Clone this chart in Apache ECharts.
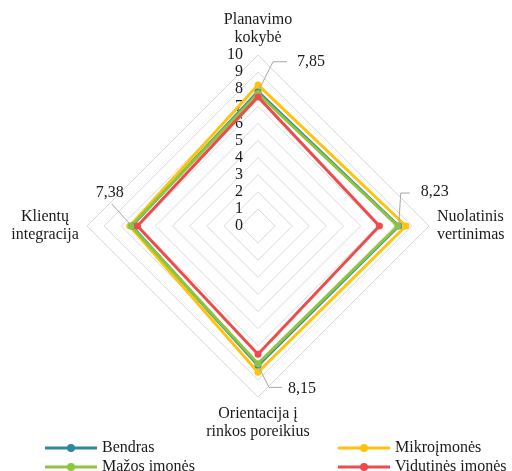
<!DOCTYPE html>
<html>
<head>
<meta charset="utf-8">
<script src="https://cdn.jsdelivr.net/npm/echarts@6/dist/echarts.min.js"></script>
<style>
  html, body { margin: 0; padding: 0; background: #fff; }
  #chart { width: 512px; height: 471px; }
</style>
</head>
<body>
<div id="chart"></div>
<script>
// indicators, in echarts order (top, then counter-clockwise)
var categories = ['Planavimo\nkokybė', 'Klientų\nintegracija', 'Orientacija į\nrinkos poreikius', 'Nuolatinis\nvertinimas'];
var seriesNames = ['Bendras', 'Mikroįmonės', 'Mažos įmonės', 'Vidutinės įmonės'];
var bendras = [7.85, 7.38, 8.15, 8.23];
var mikro = [8.25, 7.5, 8.55, 8.65];
var mazos = [7.75, 7.42, 8.05, 8.18];
var vidutines = [7.55, 7.05, 7.5, 7.1];
var tickLabels = ['0', '1', '2', '3', '4', '5', '6', '7', '8', '9', '10'];
var labelTexts = ['7,85', '7,38', '8,15', '8,23'];

var colors = ['#31879f', '#ffc20e', '#8cc63e', '#ee4c4c'];
var font = "'Liberation Serif', 'Times New Roman', 'DejaVu Serif', serif";
var cx = 258, cy = 226, R = 171, maxV = 10;

var chart = echarts.init(document.getElementById('chart'));

function pt(v, i) {
    var a = (90 + i * 360 / categories.length) * Math.PI / 180;
    return [cx + R * v / maxV * Math.cos(a), cy - R * v / maxV * Math.sin(a)];
}

// leader lines + labels for Bendras
var shifts = [
    {elbow: [15, -30], end: [29, -30], text: [39, -30], align: 'left'},
    {elbow: [-20, -22], end: [-20, -22], text: [-22, -33], align: 'center'},
    {elbow: [11, 22], end: [24, 22], text: [30, 23], align: 'left'},
    {elbow: [2, -33], end: [11, -33], text: [22, -34], align: 'left'}
];
var graphics = [];
bendras.forEach(function (v, i) {
    var p = pt(v, i), s = shifts[i];
    graphics.push({
        type: 'polyline', silent: true, z: 10,
        shape: {points: [p, [p[0] + s.elbow[0], p[1] + s.elbow[1]], [p[0] + s.end[0], p[1] + s.end[1]]]},
        style: {stroke: '#a6a6a6', lineWidth: 1, fill: null}
    });
    graphics.push({
        type: 'text', silent: true, z: 10,
        x: p[0] + s.text[0], y: p[1] + s.text[1],
        style: {text: labelTexts[i], font: '16px ' + font, fill: '#1a1a1a',
            align: s.align, verticalAlign: 'middle'}
    });
});

var legendIcon = 'path://M0,2.5 L52,2.5 L52,5.5 L0,5.5 Z M22,4 A4,4 0 1 1 30,4 A4,4 0 1 1 22,4 Z';
var legendPos = [[40, 435], [333, 435], [40, 454], [333, 454]];

var datas = [bendras, mikro, mazos, vidutines];

var option = {
    animation: false,
    color: colors,
    textStyle: {fontFamily: font},
    legend: seriesNames.map(function (n, k) {
        return {
            left: legendPos[k][0], top: legendPos[k][1],
            itemWidth: 52, itemHeight: 8, icon: legendIcon,
            itemStyle: {borderWidth: 0, color: colors[k]},
            textStyle: {fontFamily: font, fontSize: 16, color: '#1a1a1a'},
            data: [n]
        };
    }),
    radar: {
        center: [cx, cy],
        radius: R,
        shape: 'polygon',
        splitNumber: 10,
        nameGap: 8,
        indicator: categories.map(function (c) { return {name: c, min: 0, max: maxV}; }),
        axisName: {
            color: '#1a1a1a', fontFamily: font, fontSize: 16, lineHeight: 18,
            formatter: function (name) {
                // left name has its two lines centred on each other
                if (name !== categories[1]) return name;
                return name.split('\n').map(function (l) { return '{c|' + l + '}'; }).join('\n');
            },
            rich: {c: {width: 68, align: 'center', color: '#1a1a1a', fontFamily: font, fontSize: 16, lineHeight: 18}}
        },
        axisLine: {show: false},
        axisTick: {show: false},
        axisLabel: {show: false},
        splitArea: {show: false},
        splitLine: {lineStyle: {color: '#d9d9d9', width: 1}}
    },
    grid: {left: cx, width: 1, top: cy - R, height: R},
    xAxis: {type: 'value', show: false},
    yAxis: {
        type: 'value', min: 0, max: 10, interval: 1,
        axisLine: {show: false}, axisTick: {show: false}, splitLine: {show: false},
        axisLabel: {
            margin: 15, fontFamily: font, fontSize: 16, color: '#1a1a1a',
            formatter: function (v) { return tickLabels[v]; }
        }
    },
    graphic: graphics,
    series: datas.map(function (d, k) {
        return {
            name: seriesNames[k],
            type: 'radar',
            symbol: 'circle',
            symbolSize: 7,
            lineStyle: {width: 3},
            data: [{value: d, name: seriesNames[k]}]
        };
    })
};
chart.setOption(option);
</script>
</body>
</html>
